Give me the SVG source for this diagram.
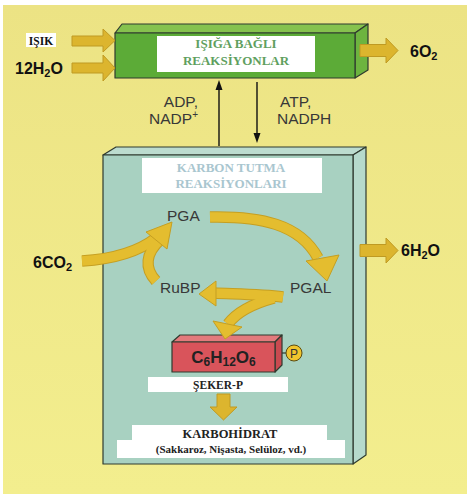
<svg xmlns="http://www.w3.org/2000/svg" width="467" height="494" viewBox="0 0 467 494">
<defs>
<linearGradient id="bg" x1="0" y1="0" x2="0" y2="1">
<stop offset="0" stop-color="#ece384"/>
<stop offset="1" stop-color="#f3ee8e"/>
</linearGradient>
</defs>
<style>
.edge{stroke:#2f3a2f;stroke-width:1.2;stroke-linejoin:round}
.band{fill:none;stroke:#c59f22;stroke-width:11.5;stroke-linecap:butt}
.bandi{fill:none;stroke:#e4bd2f;stroke-width:9.5;stroke-linecap:butt}
.head{fill:#e4bd2f;stroke:#c59f22;stroke-width:1;stroke-linejoin:round}
.blk{fill:#dcb52e;stroke:#bf9a22;stroke-width:1;stroke-linejoin:round}
.sans{font-family:"Liberation Sans",Arial,sans-serif}
.serif{font-family:"Liberation Serif","Times New Roman",serif;font-weight:bold}
.lbl{font-size:15.5px;fill:#383838}
.big{font-size:16px;font-weight:bold;fill:#111}
.thin{stroke:#111;stroke-width:1.4}
</style>
<rect x="0" y="0" width="467" height="494" fill="#ffffff"/>
<rect x="3" y="5" width="464" height="489" fill="url(#bg)"/>

<g id="light-reactions">
<polygon class="edge" points="115,33 122,24 368,24 355,33" fill="#86c24e"/>
<polygon class="edge" points="355,33 368,24 368,70 355,78" fill="#6db43f"/>
<rect class="edge" x="115" y="33" width="240" height="45" fill="#5cab37"/>
<rect x="157" y="36" width="158" height="36" fill="#ffffff"/>
<text class="serif" x="236" y="48" font-size="13" fill="#5f9f5f" text-anchor="middle">IŞIĞA BAĞLI</text>
<text class="serif" x="236" y="65" font-size="13" fill="#5f9f5f" text-anchor="middle">REAKSİYONLAR</text>
</g>

<g id="carbon-fixation">
<polygon class="edge" points="103,155 116,147 366,147 353,155" fill="#bcdccf"/>
<polygon class="edge" points="353,155 366,147 366,455 353,464" fill="#b6dacc"/>
<rect class="edge" x="103" y="155" width="250" height="309" fill="#a8d1c1"/>
<rect x="142" y="158" width="180" height="35" fill="#ffffff"/>
<text class="serif" x="231" y="172" font-size="13" fill="#a9c6cf" text-anchor="middle">KARBON TUTMA</text>
<text class="serif" x="231" y="188" font-size="13" fill="#a9c6cf" text-anchor="middle">REAKSİYONLARI</text>
</g>

<g id="PGA"><text class="sans lbl" x="167" y="221">PGA</text></g>
<g id="RuBP"><text class="sans lbl" x="160" y="293">RuBP</text></g>
<g id="PGAL"><text class="sans lbl" x="290" y="293">PGAL</text></g>

<g id="glucose">
<polygon class="edge" points="172,342 180,335 282,335 275,342" fill="#e37a7c"/>
<polygon class="edge" points="275,342 282,335 282,365 275,372" fill="#c94a50"/>
<rect class="edge" x="172" y="342" width="103" height="30" fill="#d9545b"/>
<text class="sans" x="223.5" y="363" font-size="17" font-weight="bold" fill="#222" text-anchor="middle">C<tspan font-size="12" dy="3">6</tspan><tspan dy="-3">H</tspan><tspan font-size="12" dy="3">12</tspan><tspan dy="-3">O</tspan><tspan font-size="12" dy="3">6</tspan></text>
<line class="edge" x1="282" y1="353" x2="286" y2="353"/>
<circle cx="294" cy="353" r="8" fill="#f0c52e" stroke="#5a4a10" stroke-width="1"/>
<text class="sans" x="294" y="357.5" font-size="12" fill="#333" text-anchor="middle">P</text>
</g>

<g id="seker-p">
<rect x="148" y="377" width="140" height="15" fill="#ffffff"/>
<text class="serif" x="218" y="389" font-size="11.5" fill="#222" text-anchor="middle">ŞEKER-P</text>
</g>

<g id="karbohidrat">
<rect x="132" y="425" width="195" height="16" fill="#ffffff"/>
<rect x="117" y="440" width="228" height="18" fill="#ffffff"/>
<text class="serif" x="230" y="437.5" font-size="12.5" fill="#222" text-anchor="middle">KARBOHİDRAT</text>
<text class="serif" x="231" y="453" font-size="11" fill="#222" text-anchor="middle">(Sakkaroz, Nişasta, Selüloz, vd.)</text>
</g>

<g id="isik">
<rect x="26" y="33" width="30" height="14" fill="#ffffff"/>
<text class="serif" x="41" y="44.5" font-size="11.5" fill="#111" text-anchor="middle">IŞIK</text>
</g>
<g id="h2o-in"><text class="sans big" x="15" y="74">12H<tspan font-size="11" dy="3">2</tspan><tspan dy="-3">O</tspan></text></g>
<g id="o2-out"><text class="sans big" x="410" y="57">6O<tspan font-size="11" dy="3">2</tspan></text></g>
<g id="h2o-out"><text class="sans big" x="401" y="256">6H<tspan font-size="11" dy="3">2</tspan><tspan dy="-3">O</tspan></text></g>
<g id="co2-in"><text class="sans big" x="33" y="268">6CO<tspan font-size="11" dy="3">2</tspan></text></g>

<g id="adp"><text class="sans lbl" x="198" y="107" text-anchor="end">ADP,</text><text class="sans lbl" x="198" y="124" text-anchor="end">NADP<tspan font-size="10" dy="-6">+</tspan></text></g>
<g id="atp"><text class="sans lbl" x="280" y="107">ATP,</text><text class="sans lbl" x="277" y="124">NADPH</text></g>

<g id="connectors">
<polygon class="blk" points="72,36 103,36 103,29 115,40.5 103,52 103,46 72,46"/>
<polygon class="blk" points="72,63 103,63 103,55 115,68 103,81 103,73 72,73"/>
<polygon class="blk" points="360,44.5 386,44.5 386,38 398,50.5 386,63 386,56.5 360,56.5"/>
<polygon class="blk" points="360,244.5 386,244.5 386,238 398,250.5 386,263 386,256.5 360,256.5"/>
<polygon class="blk" points="217,394 230,394 230,407 237,407 223.5,420 210,407 217,407"/>
<line class="thin" x1="219" y1="146" x2="219" y2="88"/>
<polygon points="219,80 215.5,90 222.5,90" fill="#111"/>
<line class="thin" x1="257" y1="82" x2="257" y2="134"/>
<polygon points="257,143 253.5,133 260.5,133" fill="#111"/>
<path class="band" d="M82,261 C115,259 138,252 156,238"/>
<path class="band" d="M156,281 C144,268 146,253 160,240"/>
<path class="band" d="M210,217 C260,216 300,224 318,258"/>
<path class="band" d="M283,297 C262,294 235,294 214,293"/>
<path class="band" d="M274,298 C252,304 236,313 228,324"/>
<path class="bandi" d="M82,261 C115,259 138,252 156,238"/>
<path class="bandi" d="M156,281 C144,268 146,253 160,240"/>
<path class="bandi" d="M210,217 C260,216 300,224 318,258"/>
<path class="bandi" d="M283,297 C262,294 235,294 214,293"/>
<path class="bandi" d="M274,298 C252,304 236,313 228,324"/>
<polygon class="head" points="146,232 172,222 167,249"/>
<polygon class="head" points="306,261 339,255 327,281"/>
<polygon class="head" points="216,281 199,294 216,306"/>
<polygon class="head" points="213,321 242,327 225,339"/>
</g>
</svg>
